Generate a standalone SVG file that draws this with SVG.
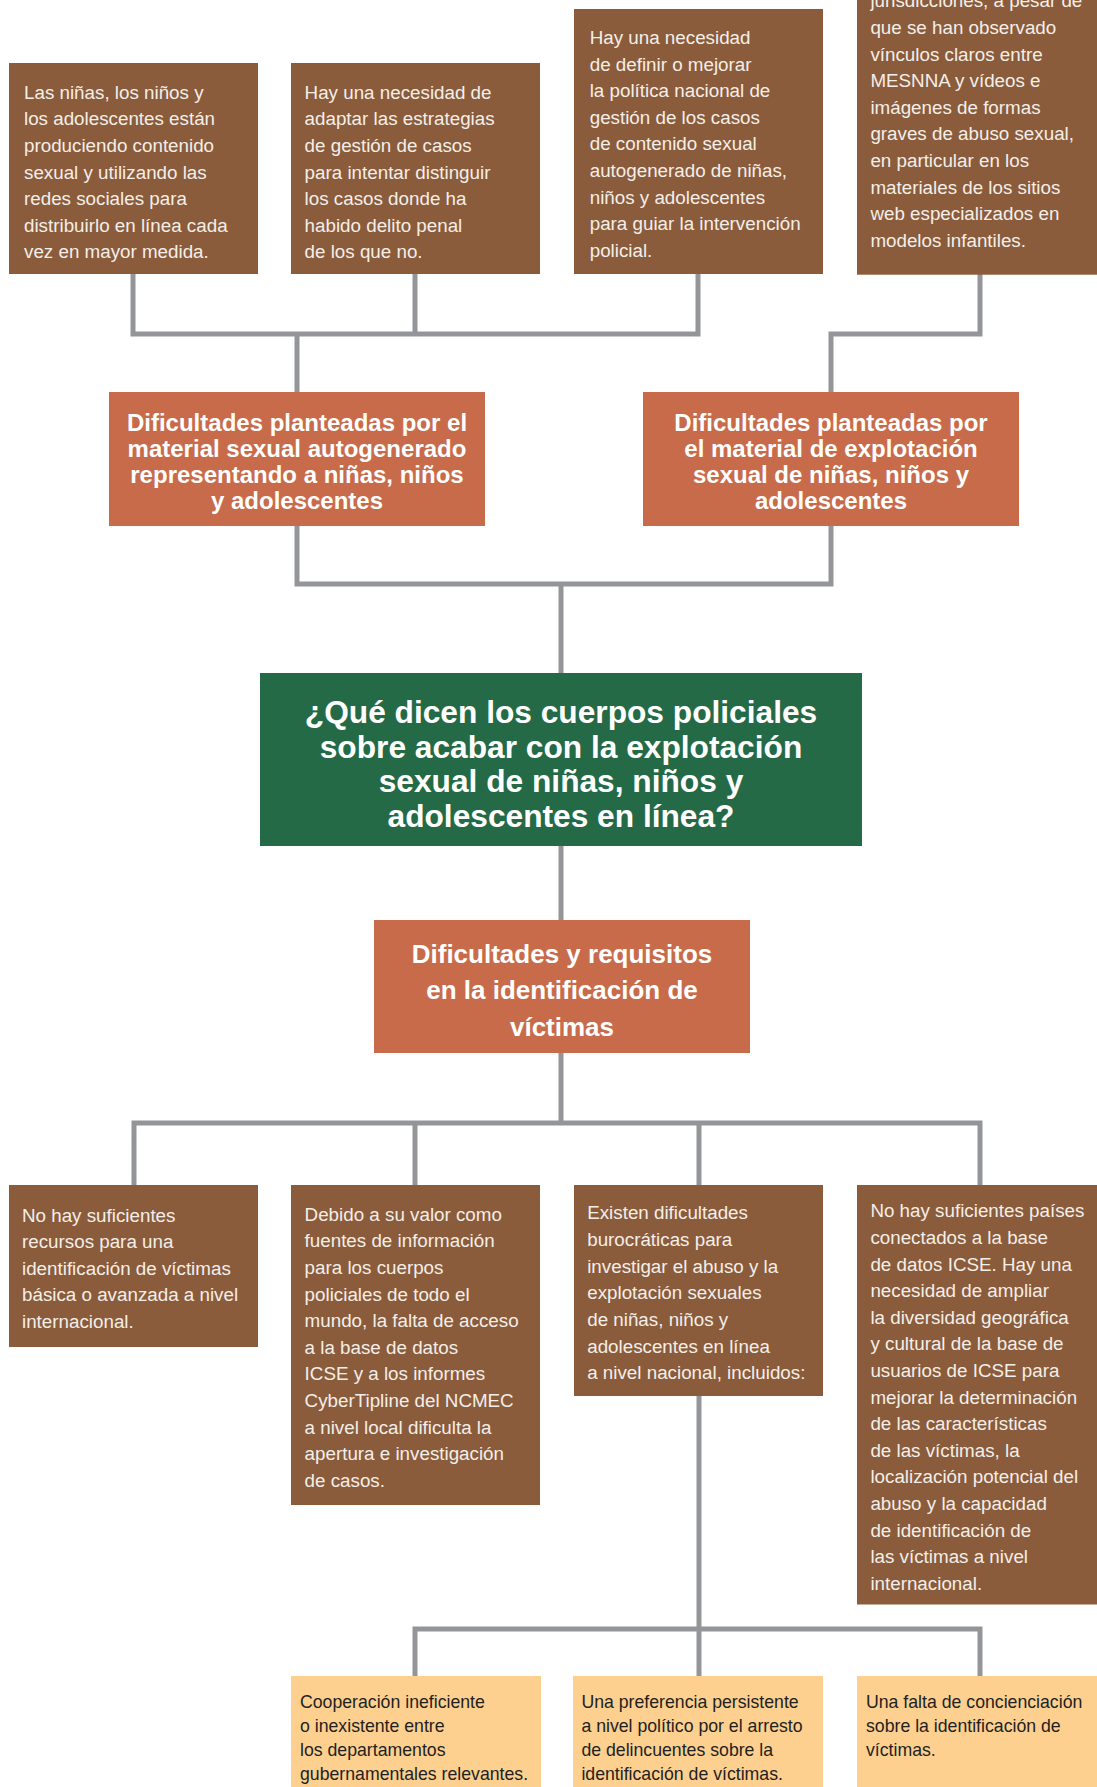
<svg xmlns="http://www.w3.org/2000/svg" width="1097" height="1787" viewBox="0 0 1097 1787">
<style>
.brown{fill:#8A5C3C}
.terra{fill:#C86B4A}
.green{fill:#256A46}
.light{fill:#FDD090}
.bt{font-family:"Liberation Sans",Arial,sans-serif;font-size:18.8px;fill:#F4EEE8}
.lt{font-family:"Liberation Sans",Arial,sans-serif;font-size:17.7px;fill:#231F20}
.ht{font-family:"Liberation Sans",Arial,sans-serif;font-weight:bold;fill:#FFFFFF;text-anchor:middle}
.conn{fill:none;stroke:#939598;stroke-width:5;stroke-linejoin:miter;stroke-linecap:butt}
</style>
<rect width="1097" height="1787" fill="#FFFFFF"/>
<g id="connectors">
<path class="conn" d="M133,274 V334 H698 V274"/>
<path class="conn" d="M415,274 V334"/>
<path class="conn" d="M297,334 V392"/>
<path class="conn" d="M980,274 V334 H831 V392"/>
<path class="conn" d="M297,526 V584 H831 V526"/>
<path class="conn" d="M561,584 V673"/>
<path class="conn" d="M561,846 V920"/>
<path class="conn" d="M561,1053 V1123"/>
<path class="conn" d="M134,1185 V1123 H980 V1185"/>
<path class="conn" d="M415,1123 V1185"/>
<path class="conn" d="M699,1123 V1185"/>
<path class="conn" d="M699,1396 V1676"/>
<path class="conn" d="M415,1676 V1629 H980 V1676"/>
</g>
<g id="n1">
<rect class="brown" x="9" y="63" width="249" height="211"/>
<text class="bt"><tspan x="24" y="98.7">Las niñas, los niños y</tspan><tspan x="24" y="125.3">los adolescentes están</tspan><tspan x="24" y="151.9">produciendo contenido</tspan><tspan x="24" y="178.5">sexual y utilizando las</tspan><tspan x="24" y="205.1">redes sociales para</tspan><tspan x="24" y="231.7">distribuirlo en línea cada</tspan><tspan x="24" y="258.3">vez en mayor medida.</tspan></text>
</g>
<g id="n2">
<rect class="brown" x="291" y="63" width="249" height="211"/>
<text class="bt"><tspan x="304.6" y="98.7">Hay una necesidad de</tspan><tspan x="304.6" y="125.3">adaptar las estrategias</tspan><tspan x="304.6" y="151.9">de gestión de casos</tspan><tspan x="304.6" y="178.5">para intentar distinguir</tspan><tspan x="304.6" y="205.1">los casos donde ha</tspan><tspan x="304.6" y="231.7">habido delito penal</tspan><tspan x="304.6" y="258.3">de los que no.</tspan></text>
</g>
<g id="n3">
<rect class="brown" x="574" y="9" width="249" height="265"/>
<text class="bt"><tspan x="589.7" y="44">Hay una necesidad</tspan><tspan x="589.7" y="70.6">de definir o mejorar</tspan><tspan x="589.7" y="97.2">la política nacional de</tspan><tspan x="589.7" y="123.8">gestión de los casos</tspan><tspan x="589.7" y="150.4">de contenido sexual</tspan><tspan x="589.7" y="177">autogenerado de niñas,</tspan><tspan x="589.7" y="203.6">niños y adolescentes</tspan><tspan x="589.7" y="230.2">para guiar la intervención</tspan><tspan x="589.7" y="256.8">policial.</tspan></text>
</g>
<g id="n4">
<rect class="brown" x="857" y="-20" width="246" height="294.7"/>
<text class="bt"><tspan x="870.4" y="7.4">jurisdicciones, a pesar de</tspan><tspan x="870.4" y="34">que se han observado</tspan><tspan x="870.4" y="60.6">vínculos claros entre</tspan><tspan x="870.4" y="87.2">MESNNA y vídeos e</tspan><tspan x="870.4" y="113.8">imágenes de formas</tspan><tspan x="870.4" y="140.4">graves de abuso sexual,</tspan><tspan x="870.4" y="167">en particular en los</tspan><tspan x="870.4" y="193.6">materiales de los sitios</tspan><tspan x="870.4" y="220.2">web especializados en</tspan><tspan x="870.4" y="246.8">modelos infantiles.</tspan></text>
</g>
<g id="n5">
<rect class="terra" x="109" y="392" width="376" height="134"/>
<text class="ht" font-size="24"><tspan x="297" y="430.7">Dificultades planteadas por el</tspan><tspan x="297" y="456.7">material sexual autogenerado</tspan><tspan x="297" y="482.7">representando a niñas, niños</tspan><tspan x="297" y="509">y adolescentes</tspan></text>
</g>
<g id="n6">
<rect class="terra" x="643" y="392" width="376" height="134"/>
<text class="ht" font-size="24"><tspan x="831" y="430.7">Dificultades planteadas por</tspan><tspan x="831" y="456.7">el material de explotación</tspan><tspan x="831" y="482.7">sexual de niñas, niños y</tspan><tspan x="831" y="509">adolescentes</tspan></text>
</g>
<g id="n7">
<rect class="green" x="260" y="673" width="602" height="173"/>
<text class="ht" font-size="31.7"><tspan x="561" y="723.3">¿Qué dicen los cuerpos policiales</tspan><tspan x="561" y="757.8">sobre acabar con la explotación</tspan><tspan x="561" y="792.3">sexual de niñas, niños y</tspan><tspan x="561" y="826.8">adolescentes en línea?</tspan></text>
</g>
<g id="n8">
<rect class="terra" x="374" y="920" width="376" height="133"/>
<text class="ht" font-size="26"><tspan x="562" y="962.7">Dificultades y requisitos</tspan><tspan x="562" y="999.3">en la identificación de</tspan><tspan x="562" y="1035.5">víctimas</tspan></text>
</g>
<g id="n9">
<rect class="brown" x="9" y="1185" width="249" height="162"/>
<text class="bt"><tspan x="22" y="1221.7">No hay suficientes</tspan><tspan x="22" y="1248.2">recursos para una</tspan><tspan x="22" y="1274.7">identificación de víctimas</tspan><tspan x="22" y="1301.2">básica o avanzada a nivel</tspan><tspan x="22" y="1327.7">internacional.</tspan></text>
</g>
<g id="n10">
<rect class="brown" x="291" y="1185" width="249" height="320"/>
<text class="bt"><tspan x="304.6" y="1220.7">Debido a su valor como</tspan><tspan x="304.6" y="1247.3">fuentes de información</tspan><tspan x="304.6" y="1273.9">para los cuerpos</tspan><tspan x="304.6" y="1300.5">policiales de todo el</tspan><tspan x="304.6" y="1327.1">mundo, la falta de acceso</tspan><tspan x="304.6" y="1353.7">a la base de datos</tspan><tspan x="304.6" y="1380.3">ICSE y a los informes</tspan><tspan x="304.6" y="1406.9">CyberTipline del NCMEC</tspan><tspan x="304.6" y="1433.5">a nivel local dificulta la</tspan><tspan x="304.6" y="1460.1">apertura e investigación</tspan><tspan x="304.6" y="1486.7">de casos.</tspan></text>
</g>
<g id="n11">
<rect class="brown" x="574" y="1185" width="249" height="211"/>
<text class="bt"><tspan x="587.2" y="1219.3">Existen dificultades</tspan><tspan x="587.2" y="1246">burocráticas para</tspan><tspan x="587.2" y="1272.6">investigar el abuso y la</tspan><tspan x="587.2" y="1299.3">explotación sexuales</tspan><tspan x="587.2" y="1326">de niñas, niños y</tspan><tspan x="587.2" y="1352.6">adolescentes en línea</tspan><tspan x="587.2" y="1379.3">a nivel nacional, incluidos:</tspan></text>
</g>
<g id="n12">
<rect class="brown" x="857" y="1185" width="246" height="419.5"/>
<text class="bt"><tspan x="870.4" y="1217.3">No hay suficientes países</tspan><tspan x="870.4" y="1243.9">conectados a la base</tspan><tspan x="870.4" y="1270.5">de datos ICSE. Hay una</tspan><tspan x="870.4" y="1297.1">necesidad de ampliar</tspan><tspan x="870.4" y="1323.7">la diversidad geográfica</tspan><tspan x="870.4" y="1350.3">y cultural de la base de</tspan><tspan x="870.4" y="1376.9">usuarios de ICSE para</tspan><tspan x="870.4" y="1403.5">mejorar la determinación</tspan><tspan x="870.4" y="1430.1">de las características</tspan><tspan x="870.4" y="1456.7">de las víctimas, la</tspan><tspan x="870.4" y="1483.3">localización potencial del</tspan><tspan x="870.4" y="1509.9">abuso y la capacidad</tspan><tspan x="870.4" y="1536.5">de identificación de</tspan><tspan x="870.4" y="1563.1">las víctimas a nivel</tspan><tspan x="870.4" y="1589.7">internacional.</tspan></text>
</g>
<g id="n13">
<rect class="light" x="291" y="1676" width="250" height="120"/>
<text class="lt"><tspan x="300" y="1707.7">Cooperación ineficiente</tspan><tspan x="300" y="1731.7">o inexistente entre</tspan><tspan x="300" y="1755.7">los departamentos</tspan><tspan x="300" y="1779.7">gubernamentales relevantes.</tspan></text>
</g>
<g id="n14">
<rect class="light" x="573" y="1676" width="250" height="120"/>
<text class="lt"><tspan x="581.4" y="1707.7">Una preferencia persistente</tspan><tspan x="581.4" y="1731.7">a nivel político por el arresto</tspan><tspan x="581.4" y="1755.7">de delincuentes sobre la</tspan><tspan x="581.4" y="1779.7">identificación de víctimas.</tspan></text>
</g>
<g id="n15">
<rect class="light" x="857" y="1676" width="246" height="120"/>
<text class="lt"><tspan x="866" y="1707.7">Una falta de concienciación</tspan><tspan x="866" y="1731.7">sobre la identificación de</tspan><tspan x="866" y="1755.7">víctimas.</tspan></text>
</g>
</svg>
